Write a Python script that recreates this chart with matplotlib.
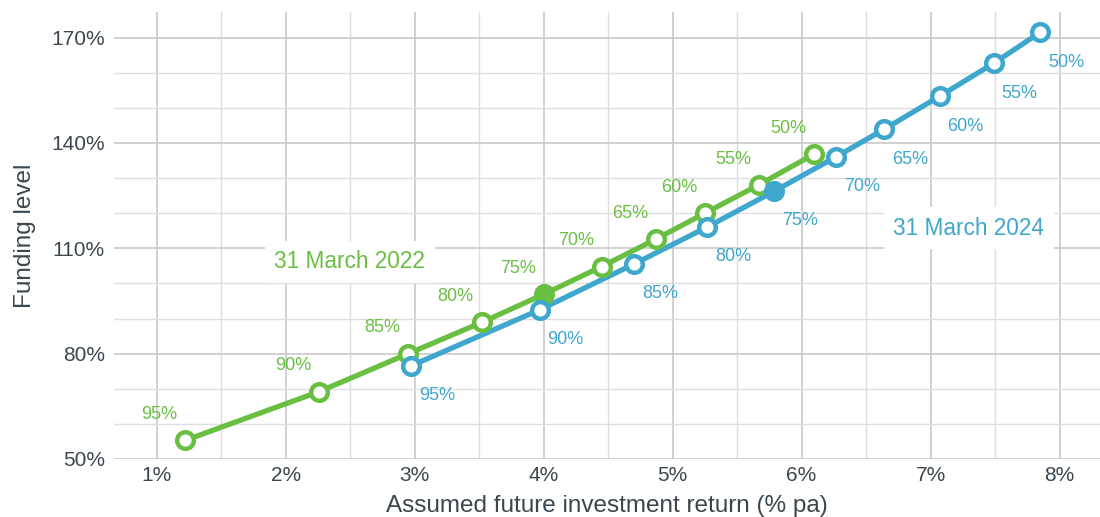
import matplotlib
matplotlib.use("Agg")
import matplotlib.pyplot as plt
from matplotlib.ticker import MultipleLocator, FuncFormatter

# ---- data ----
labels = ["95%", "90%", "85%", "80%", "75%", "70%", "65%", "60%", "55%", "50%"]
x_2022 = [1.22, 2.26, 2.95, 3.52, 4.00, 4.45, 4.87, 5.25, 5.67, 6.10]
y_2022 = [55.3, 69.2, 80.0, 88.9, 96.9, 104.8, 112.6, 120.0, 128.1, 136.9]
labels_2024 = ["95%", "90%", "85%", "80%", "75%", "70%", "65%", "60%", "55%", "50%"]
x_2024 = [2.97, 3.97, 4.70, 5.27, 5.79, 6.27, 6.64, 7.07, 7.49, 7.85]
y_2024 = [76.5, 92.5, 105.5, 116.1, 126.3, 136.1, 143.9, 153.3, 162.7, 171.5]
highlight = "75%"
series_names = ["31 March 2022", "31 March 2024"]
x_ticks = [1, 2, 3, 4, 5, 6, 7, 8]
y_ticks = [50, 80, 110, 140, 170]

GREEN = "#6abf43"
BLUE = "#3fa7cd"
TXT = "#3b4650"

plt.rcParams['font.family'] = ['Liberation Sans', 'DejaVu Sans']

fig = plt.figure(figsize=(11, 5.17), dpi=100)
ax = fig.add_axes([114 / 1100, 1 - 459 / 517, 1 - 114 / 1100, (459 - 12) / 517])

ax.set_xlim(0.669, 8.314)
ax.set_ylim(50, 177.3)

for s in ax.spines.values():
    s.set_visible(False)

ax.xaxis.set_minor_locator(MultipleLocator(0.5))
ax.yaxis.set_minor_locator(MultipleLocator(10))
ax.set_xticks(x_ticks)
ax.set_yticks(y_ticks)
ax.xaxis.set_major_formatter(FuncFormatter(lambda v, p: f"{v:.0f}%"))
ax.yaxis.set_major_formatter(FuncFormatter(lambda v, p: f"{v:.0f}%"))
ax.tick_params(which="both", length=0, labelsize=15, colors=TXT)
ax.tick_params(axis="x", pad=5)
ax.tick_params(axis="y", pad=6.5)
ax.grid(which="major", color="#cacaca", linewidth=1.2, zorder=0)
ax.grid(which="minor", color="#dedede", linewidth=1.0, zorder=0)
ax.set_axisbelow(True)

ax.set_xlabel("Assumed future investment return (% pa)", fontsize=17.5, color=TXT, labelpad=7)
ax.set_ylabel("Funding level", fontsize=17.5, color=TXT, labelpad=11)


def draw(xs, ys, labs, color, dx, dy, ha):
    ax.plot(xs, ys, color=color, linewidth=3.8, zorder=3, solid_capstyle="round")
    for x, y, lab in zip(xs, ys, labs):
        filled = lab == highlight
        ax.plot([x], [y], marker="o", markersize=12, markeredgewidth=3.2,
                markeredgecolor=color, markerfacecolor=color if filled else "white",
                zorder=4)
        ax.annotate(lab, (x, y), xytext=(dx, dy), textcoords="offset points",
                    ha=ha, va="center", fontsize=13, color=color, zorder=5)


draw(x_2022, y_2022, labels, GREEN, -18.7, 18.5, "center")
draw(x_2024, y_2024, labels_2024, BLUE, 18.7, -21.5, "center")

box = dict(boxstyle="square,pad=0.42", facecolor="white", edgecolor="none")
ax.text(2.497, 104.3, series_names[0], color=GREEN, fontsize=16.3, ha="center",
        va="baseline", bbox=box, zorder=2)
ax.text(7.296, 113.8, series_names[1], color=BLUE, fontsize=16.3, ha="center",
        va="baseline", bbox=box, zorder=2)

fig.savefig("out.png", dpi=100)
